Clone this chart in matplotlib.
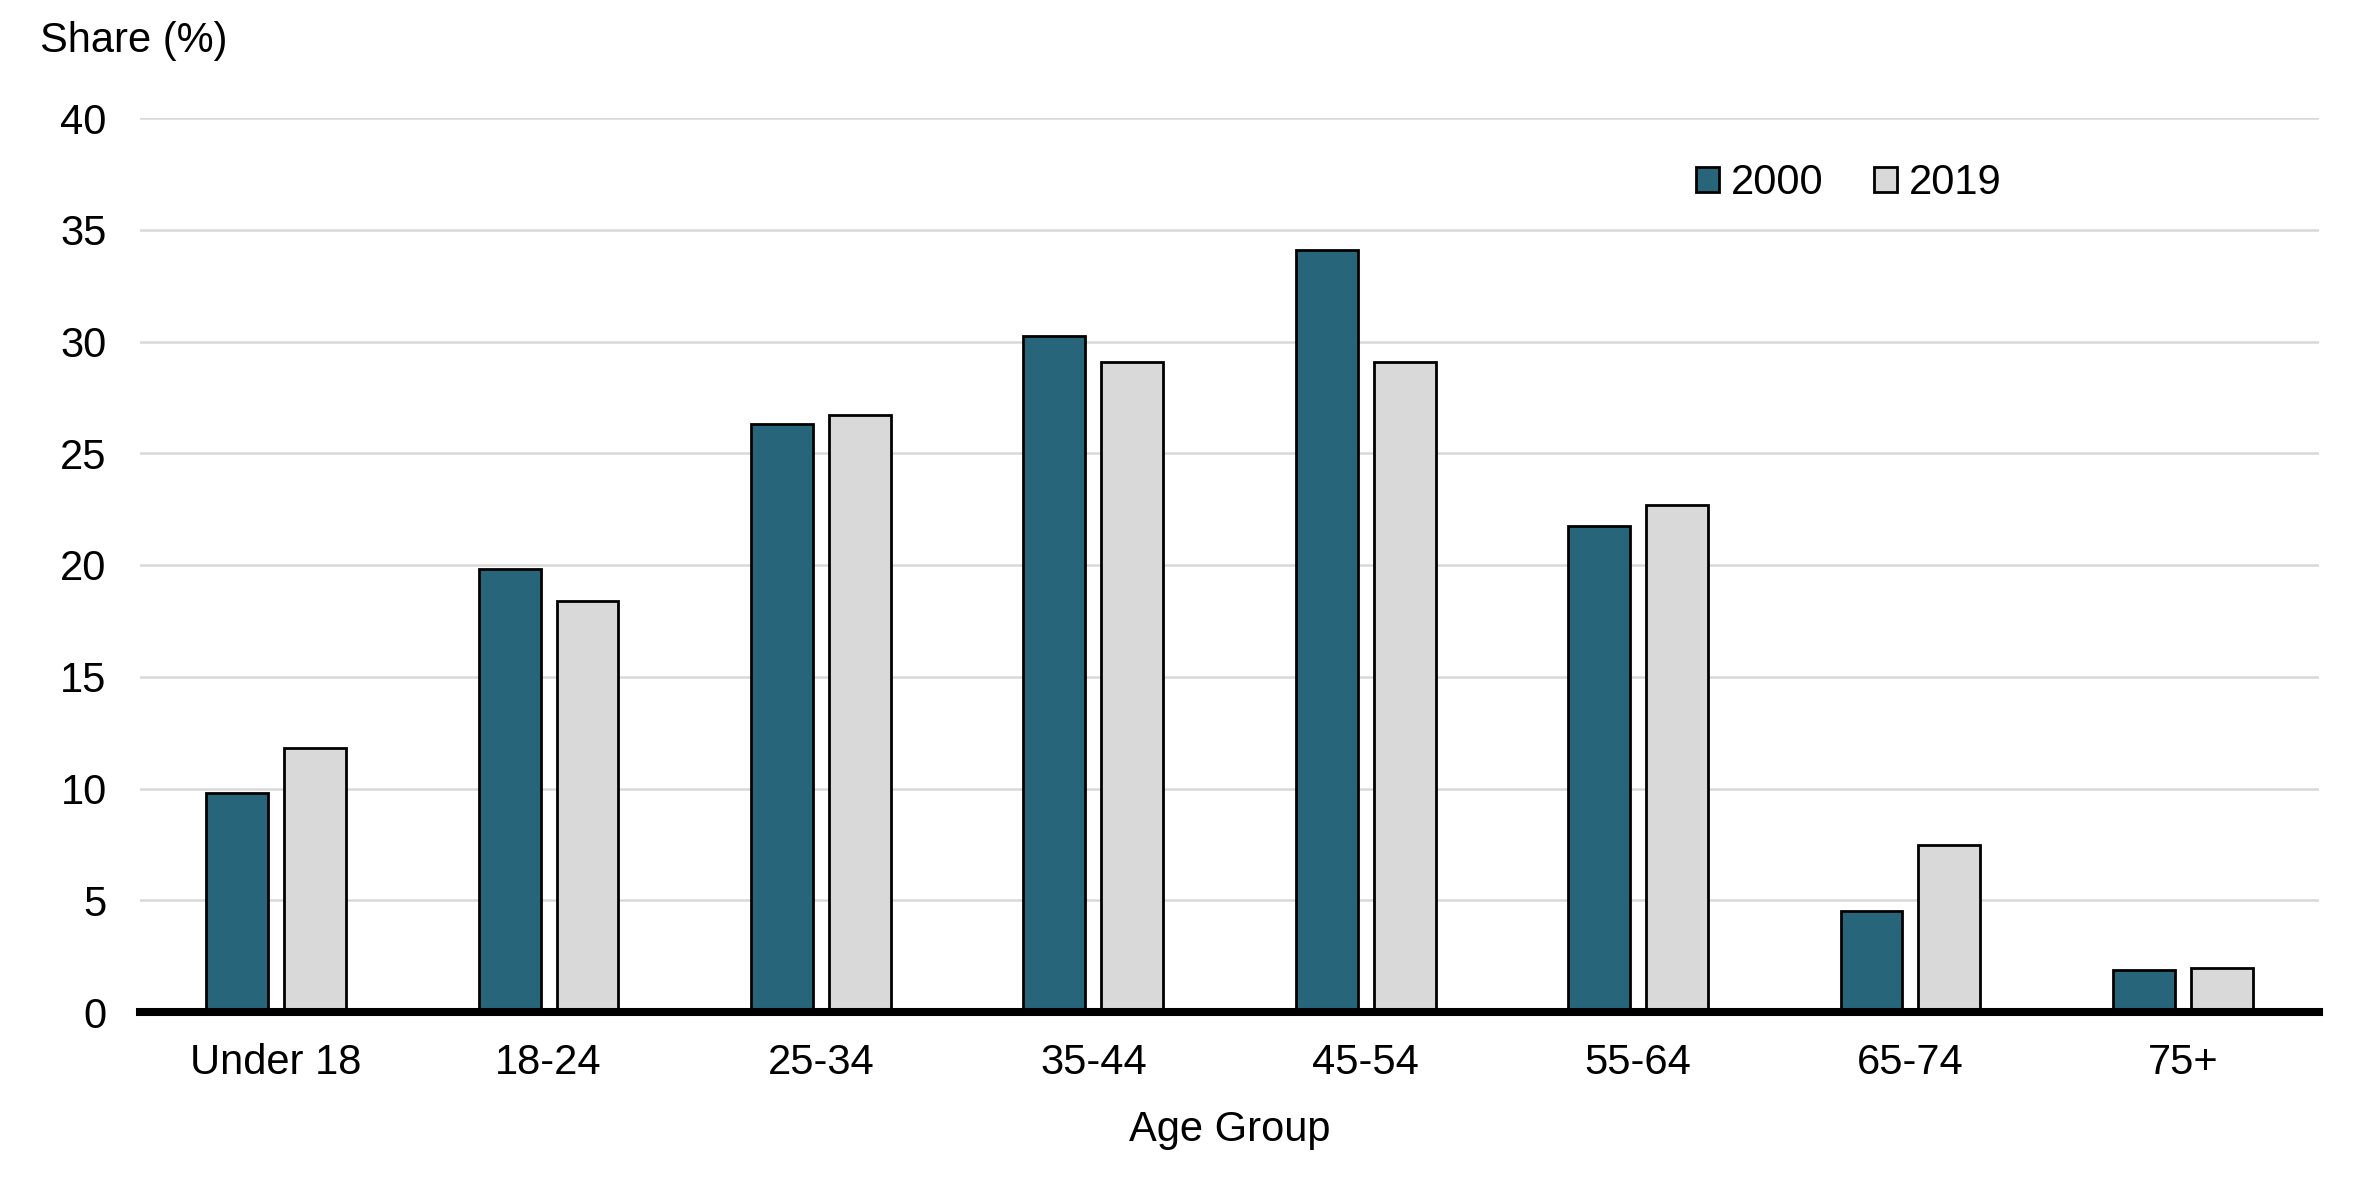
import numpy as np
import matplotlib
matplotlib.use("Agg")
from matplotlib import pyplot as plt

# data
age_groups = ['Under 18', '18-24', '25-34', '35-44', '45-54', '55-64', '65-74', '75+']
share_2000 = [9.8, 19.8, 26.3, 30.25, 34.1, 21.75, 4.5, 1.9]
share_2019 = [11.8, 18.4, 26.7, 29.1, 29.1, 22.7, 7.45, 1.95]
series_names = ['2000', '2019']

plt.rcParams['font.family'] = ['Liberation Sans', 'DejaVu Sans']
plt.rcParams['font.size'] = 15

fig = plt.figure(figsize=(11.81, 5.905), dpi=200)
ax = fig.add_axes([140 / 2362, 1 - 1012 / 1181, (2319 - 140) / 2362, (1012 - 118) / 1181])

x = np.arange(len(age_groups))
width = 0.227
offset = 0.143
ax.bar(x - offset, share_2000, width, color='#27667A', edgecolor='black',
       linewidth=1.0, label=series_names[0], zorder=2)
ax.bar(x + offset, share_2019, width, color='#D9D9D9', edgecolor='black',
       linewidth=1.0, label=series_names[1], zorder=2)

ax.set_xlim(-0.5, len(age_groups) - 0.5)
ax.set_ylim(0, 40)
ax.set_yticks(range(0, 41, 5))
ax.set_xticks(x)
ax.set_xticklabels(age_groups)
ax.yaxis.grid(True, color='#D9D9D9', linewidth=0.9, zorder=0)
ax.set_axisbelow(True)

for side in ['top', 'right', 'left']:
    ax.spines[side].set_visible(False)
ax.spines['bottom'].set_linewidth(2.9)
ax.spines['bottom'].set_zorder(3)
ax.tick_params(axis='both', length=0)
ax.tick_params(axis='x', pad=11)
ax.tick_params(axis='y', pad=12)
ax.set_xlabel('Age Group', labelpad=10)

fig.text(40 / 2362, 1 - 41 / 1181, 'Share (%)', ha='left', va='center')

ax.legend(loc='center', bbox_to_anchor=(1849 / 2362, 1 - 183 / 1181),
          bbox_transform=fig.transFigure, ncol=2, frameon=False,
          handlelength=0.55, handleheight=0.55, handletextpad=0.3,
          columnspacing=1.2)

fig.savefig('out.png', dpi=200)
